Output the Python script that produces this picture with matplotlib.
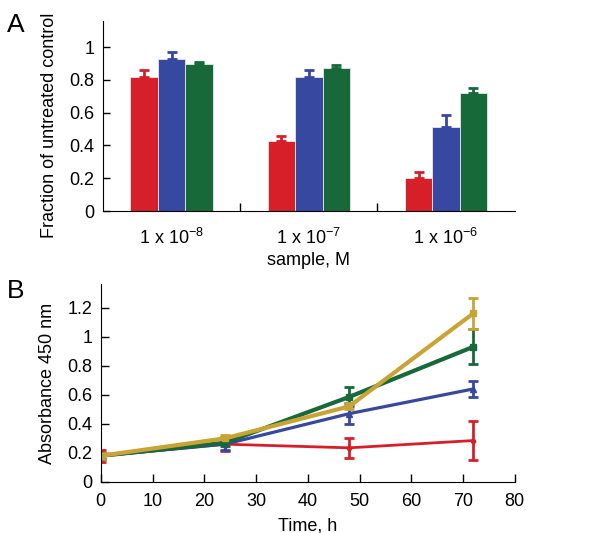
import numpy as np
import matplotlib
matplotlib.use("Agg")
import matplotlib.pyplot as plt

plt.rcParams['font.family'] = ['Liberation Sans', 'DejaVu Sans']
plt.rcParams['mathtext.fontset'] = 'custom'
plt.rcParams['mathtext.rm'] = 'Liberation Sans'
plt.rcParams['mathtext.it'] = 'Liberation Sans'

# panel A data
conc_labels = [r"1 x 10$^{-8}$", r"1 x 10$^{-7}$", r"1 x 10$^{-6}$"]
red_vals = [0.82, 0.43, 0.20]
red_err = [0.04, 0.025, 0.04]
blue_vals = [0.93, 0.82, 0.51]
blue_err = [0.04, 0.04, 0.075]
green_vals = [0.895, 0.87, 0.72]
green_err = [0.015, 0.02, 0.03]

# panel B data
time_h = [0, 24, 48, 72]
red_abs = [0.18, 0.26, 0.235, 0.285]
red_abs_err = [0.04, 0.05, 0.07, 0.135]
blue_abs = [0.18, 0.26, 0.47, 0.64]
blue_abs_err = [0.02, 0.04, 0.07, 0.055]
green_abs = [0.18, 0.27, 0.585, 0.93]
green_abs_err = [0.02, 0.02, 0.065, 0.12]
gold_abs = [0.18, 0.30, 0.52, 1.16]
gold_abs_err = [0.02, 0.02, 0.02, 0.105]

RED = "#d71f29"
BLUE = "#3648a0"
GREEN = "#17693a"
GOLD = "#c9a435"
FS = 13

fig = plt.figure(figsize=(6, 5.33), dpi=100)

# ---- A ----
ax1 = fig.add_axes([0.1717, 0.604, 0.686, 0.357])
x = np.arange(len(conc_labels))
w = 0.2
for off, vals, err, c in [(-w, red_vals, red_err, RED),
                          (0, blue_vals, blue_err, BLUE),
                          (w, green_vals, green_err, GREEN)]:
    ax1.bar(x + off, vals, width=w, color=c, edgecolor="#e8e8e8", linewidth=0.6,
            yerr=[np.zeros(len(err)), err], error_kw=dict(ecolor=c, elinewidth=2, capsize=3.5, capthick=2),
            zorder=2)
ax1.set_xlim(-0.5, 2.5)
ax1.set_ylim(0, 1.16)
ax1.set_xticks(x)
ax1.set_xticklabels(conc_labels, fontsize=FS)
ax1.tick_params(axis='x', length=0, pad=12)
ax1.set_xticks([0.5, 1.5], minor=True)
ax1.tick_params(axis='x', which='minor', direction='in', length=6, width=1)
ax1.set_yticks([0, 0.2, 0.4, 0.6, 0.8, 1])
ax1.set_yticklabels(["0", "0.2", "0.4", "0.6", "0.8", "1"], fontsize=FS)
ax1.tick_params(axis='y', direction='in', length=5, width=1, pad=6)
ax1.set_ylabel("Fraction of untreated control", fontsize=FS, labelpad=8, y=0.45)
ax1.set_xlabel("sample, M", fontsize=FS, labelpad=3)
for s in ['top', 'right']:
    ax1.spines[s].set_visible(False)
fig.text(0.012, 0.94, "A", fontsize=19)

# ---- B ----
ax2 = fig.add_axes([0.168, 0.0957, 0.69, 0.371])
series = [(red_abs, red_abs_err, RED, 'o', 2.0, 3),
          (blue_abs, blue_abs_err, BLUE, '^', 2.3, 4),
          (green_abs, green_abs_err, GREEN, 's', 3.0, 4),
          (gold_abs, gold_abs_err, GOLD, 's', 3.0, 4)]
for vals, err, c, m, lw, ms in series:
    ax2.errorbar(time_h, vals, yerr=err, color=c, marker=m, markersize=ms, linewidth=lw,
                 elinewidth=2, capsize=3.5, capthick=2)
ax2.set_xlim(0, 80)
ax2.set_ylim(0, 1.36)
ax2.set_xticks(range(0, 81, 10))
ax2.set_xticklabels([str(v) for v in range(0, 81, 10)], fontsize=FS)
ax2.set_yticks([0, 0.2, 0.4, 0.6, 0.8, 1, 1.2])
ax2.set_yticklabels(["0", "0.2", "0.4", "0.6", "0.8", "1", "1.2"], fontsize=FS)
ax2.tick_params(direction='in', length=6, width=1, pad=8)
ax2.tick_params(axis='y', pad=6)
ax2.set_xlabel("Time, h", fontsize=FS, labelpad=5)
ax2.set_ylabel("Absorbance 450 nm", fontsize=FS, labelpad=8)
for s in ['top', 'right']:
    ax2.spines[s].set_visible(False)
fig.text(0.012, 0.44, "B", fontsize=19)

fig.savefig("out.png", dpi=100)
